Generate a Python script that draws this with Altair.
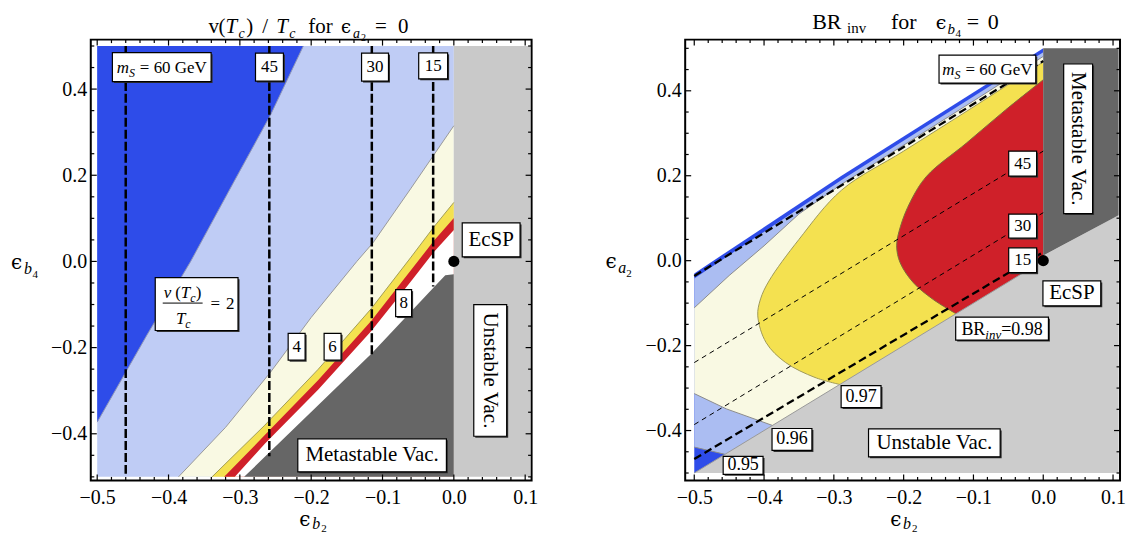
import altair as alt
import pandas as pd

FONT = "Liberation Serif"
EPS_FONT = "DejaVu Serif"
WL = 442
WR = 436
H = 442

X_MAJOR = [-0.5, -0.4, -0.3, -0.2, -0.1, 0.0, 0.1]
Y_MAJOR = [-0.4, -0.2, 0.0, 0.2, 0.4]
X_MINOR = [round(-0.5 + 0.02 * i, 2) for i in range(31) if i % 5 != 0]
Y_MINOR = [round(-0.5 + 0.05 * i, 2) for i in range(21) if i % 4 != 2]

DARK_BLUE = "#2e4ce9"
LIGHT_BLUE_L = "#bfccf5"
LIGHT_BLUE_R = "#abbdf2"
CREAM = "#f9f9e3"
YELLOW = "#f4e150"
RED = "#cf2029"
DARK_GRAY = "#666666"
LIGHT_GRAY = "#c9c9c9"

# ---------------- LEFT PANEL  (x = eps_b2, y = eps_b4) ----------------
L_XDOM = [-0.509, 0.109]
L_YDOM = [-0.5083, 0.5148]
L_c2_x = [-0.5, -0.43, -0.369, -0.31, -0.257, -0.211]
L_c2_y = [-0.373, -0.17, 0.0, 0.18, 0.34, 0.5]
L_c4_x = [-0.386, -0.32, -0.257, -0.2, -0.136, -0.113, -0.06, 0.0]
L_c4_y = [-0.5, -0.385, -0.257, -0.13, 0.0, 0.044, 0.17, 0.315]
L_c6_x = [-0.339, -0.265, -0.19, -0.116, -0.06, -0.028, 0.0]
L_c6_y = [-0.5, -0.38, -0.25, -0.11, 0.01, 0.08, 0.137]
L_c7_x = [-0.322, -0.265, -0.19, -0.116, -0.06, -0.028, 0.0]
L_c7_y = [-0.5, -0.403, -0.275, -0.138, -0.02, 0.048, 0.101]
L_c8_x = [-0.307, -0.265, -0.19, -0.116, -0.06, -0.028, 0.0]
L_c8_y = [-0.5, -0.423, -0.297, -0.162, -0.046, 0.022, 0.073]
L_meta_x = [-0.294, -0.116, -0.028, -0.012, 0.0]
L_meta_y = [-0.5, -0.215, -0.06, -0.032, -0.03]
L_ms_names = ["60", "45", "30", "15"]
L_ms_x = [-0.46, -0.2587, -0.115, -0.029]
L_ms_end = [-0.5, -0.452, -0.217, -0.058]

# ---------------- RIGHT PANEL (x = eps_b2, y = eps_a2) ----------------
R_XDOM = [-0.513, 0.110]
R_YDOM = [-0.5175, 0.5205]
R_band_x = [-0.5, -0.289, 0.0]
R_band_y = [-0.03, 0.2, 0.5]
R_c95_x = [-0.456, -0.5, -0.5, -0.289, 0.0]
R_c95_y = [-0.456, -0.439, -0.042, 0.19, 0.491]
R_c96_x = [-0.388, -0.454, -0.5, -0.5, -0.45, -0.4, -0.35, -0.289, -0.2, -0.1, 0.0]
R_c96_y = [-0.388, -0.349, -0.313, -0.111, -0.035, 0.035, 0.11, 0.18, 0.272, 0.376, 0.481]
R_c97_x = [-0.2915, -0.327, -0.369, -0.397, -0.409, -0.405, -0.393, -0.35, -0.289, -0.2, -0.1, 0.0]
R_c97_y = [-0.2915, -0.275, -0.24, -0.193, -0.13, -0.09, -0.048, 0.05, 0.166, 0.258, 0.362, 0.468]
R_c98_x = [-0.125, -0.158, -0.186, -0.205, -0.21, -0.2045, -0.19, -0.167, -0.11, -0.054, 0.0]
R_c98_y = [-0.125, -0.091, -0.052, -0.005, 0.035, 0.081, 0.14, 0.199, 0.277, 0.355, 0.426]
R_unst_x = [-0.5, 0.0, 0.0005, 0.108]
R_unst_y = [-0.5, 0.0, 0.012, 0.107]
R_meta_x = [0.0, 0.108]
R_meta_y = [0.012, 0.107]
R_ms_names = ["60", "45", "30", "15"]
R_ms_x0 = [-0.5, -0.5, -0.5, -0.5]
R_ms_y0 = [-0.036, -0.24, -0.386, -0.467]
R_ms_x1 = [0.0, 0.0, 0.0, 0.0]
R_ms_y1 = [0.47, 0.258, 0.113, 0.02]

REG_W = {" ": 250, "\u00a0": 250, "=": 564, ".": 250, "(": 333, ")": 333, "/": 278,
         "B": 667, "R": 667, "G": 722, "V": 722, "e": 444, "i": 278, "n": 500,
         "v": 500, "f": 333, "o": 500, "r": 333}
ITA_W = {"m": 722, "S": 500, "T": 556, "c": 444, "a": 500, "b": 500, "i": 278,
         "n": 500, "v": 444}


def tw(t, fs, it):
    tab = ITA_W if it else REG_W
    return sum(tab.get(ch, 500) for ch in t) * fs / 1000.0


def panel(xdom, ydom, w):
    return dict(xdom=xdom, ydom=ydom, w=w, ppx=w / (xdom[1] - xdom[0]), ppy=H / (ydom[1] - ydom[0]))


PL = panel(L_XDOM, L_YDOM, WL)
PR = panel(R_XDOM, R_YDOM, WR)


def encs(P):
    xs = alt.Scale(domain=P["xdom"], nice=False, zero=False)
    ys = alt.Scale(domain=P["ydom"], nice=False, zero=False)
    xa = alt.Axis(values=X_MAJOR, format=".1f", ticks=False, domain=False, grid=False,
                  labelFont=FONT, labelFontSize=20, labelColor="black", labelPadding=7,
                  labelFlush=False, title=None)
    ya = alt.Axis(values=Y_MAJOR, format=".1f", ticks=False, domain=False, grid=False,
                  labelFont=FONT, labelFontSize=20, labelColor="black", labelPadding=4,
                  labelFlush=False, title=None)
    return alt.X("x:Q", scale=xs, axis=xa), alt.Y("y:Q", scale=ys, axis=ya)


def varea(X, Y, xs, ys, y2s, color, interp="linear"):
    df = pd.DataFrame({"x": xs, "y": ys, "y2": y2s})
    return alt.Chart(df).mark_area(color=color, opacity=1, interpolate=interp).encode(
        x=X, y=Y, y2=alt.Y2("y2:Q"))


def harea(X, Y, xs, ys, x2s, color, interp="linear"):
    df = pd.DataFrame({"x": xs, "y": ys, "x2": x2s})
    return alt.Chart(df).mark_area(color=color, opacity=1, orient="horizontal",
                                   interpolate=interp).encode(x=X, x2=alt.X2("x2:Q"), y=Y)


def cline(X, Y, xs, ys, color, width=1.0, dash=None, interp="linear"):
    df = pd.DataFrame({"x": xs, "y": ys, "o": list(range(len(xs)))})
    kw = dict(color=color, strokeWidth=width, interpolate=interp)
    if dash is not None:
        kw["strokeDash"] = dash
    return alt.Chart(df).mark_line(**kw).encode(x=X, y=Y, order="o:Q")


def tick_layers(X, Y, w):
    out = []
    for vals, ln in ((X_MAJOR, 6), (X_MINOR, 3.5)):
        df = pd.DataFrame({"x": vals})
        out.append(alt.Chart(df).mark_rule(color="black", strokeWidth=1.2).encode(
            x=X, y=alt.value(H), y2=alt.value(H - ln)))
        out.append(alt.Chart(df).mark_rule(color="black", strokeWidth=1.2).encode(
            x=X, y=alt.value(0), y2=alt.value(ln)))
    for vals, ln in ((Y_MAJOR, 6), (Y_MINOR, 3.5)):
        df = pd.DataFrame({"y": vals})
        out.append(alt.Chart(df).mark_rule(color="black", strokeWidth=1.2).encode(
            y=Y, x=alt.value(0), x2=alt.value(ln)))
        out.append(alt.Chart(df).mark_rule(color="black", strokeWidth=1.2).encode(
            y=Y, x=alt.value(w), x2=alt.value(w - ln)))
    return out


def add_px(rows, P, rx, ry, t, fs, it=False, fn=FONT):
    x = P["xdom"][0] + rx / P["ppx"]
    y = P["ydom"][1] - ry / P["ppy"]
    rows.append(dict(x=x, y=y, t=t, fs=fs, it=it, ang=0, al="left", bl="alphabetic", fn=fn))


def add_off(rows, P, x, y, dx, dy, t, fs, it=False, fn=FONT):
    rows.append(dict(x=x + dx / P["ppx"], y=y - dy / P["ppy"], t=t, fs=fs, it=it, ang=0,
                     al="left", bl="alphabetic", fn=fn))


def label_c(rows, x, y, t, fs, it=False, ang=0):
    rows.append(dict(x=x, y=y, t=t, fs=fs, it=it, ang=ang, al="center", bl="middle", fn=FONT))


def label_rich(rows, P, x, y, pieces, base_dy):
    total = sum(tw(t, fs, it) + gap for t, fs, it, _, gap in pieces)
    cur = -total / 2
    for t, fs, it, dy, gap in pieces:
        cur += gap
        add_off(rows, P, x, y, cur, base_dy + dy, t, fs, it)
        cur += tw(t, fs, it)


def box_layers(X, Y, boxes):
    rows = []
    for x, y, w, h in boxes:
        a, b = w / 20.0, h / 20.0
        rows.append(dict(x=x, y=y, shp=f"M{-a},{-b}L{a},{-b}L{a},{b}L{-a},{b}Z"))
    df = pd.DataFrame(rows)
    sh = alt.Shape("shp:N", scale=None, legend=None)
    shadow = alt.Chart(df).mark_point(filled=True, color="#333333", opacity=1, xOffset=1.5,
                                      yOffset=1.5).encode(x=X, y=Y, shape=sh, size=alt.value(400))
    box = alt.Chart(df).mark_point(filled=True, fill="white", stroke="black", strokeWidth=1.2,
                                   opacity=1).encode(x=X, y=Y, shape=sh, size=alt.value(400))
    return [shadow, box]


def text_layers(X, Y, rows):
    df = pd.DataFrame(rows)
    out = []
    for (it, ang, al, bl, fn), g in df.groupby(["it", "ang", "al", "bl", "fn"]):
        gg = g[["x", "y", "t", "fs"]].reset_index(drop=True)
        out.append(alt.Chart(gg).mark_text(font=str(fn), fontStyle="italic" if bool(it) else "normal",
                                           align=str(al), baseline=str(bl), angle=float(ang),
                                           color="black").encode(
            x=X, y=Y, text="t:N", size=alt.Size("fs:Q", scale=None, legend=None)))
    return out


MS_PIECES = [("m", 17, True, 0, 0), ("S", 12, True, 4, 0), ("=\u00a060\u00a0GeV", 17, False, 0, 5)]

# ======================= LEFT =======================
XL, YL = encs(PL)
left_layers = [
    varea(XL, YL, [-0.5, 0.0], [0.5, 0.5], [-0.5, -0.5], LIGHT_BLUE_L),
    varea(XL, YL, L_c2_x, [0.5] * len(L_c2_x), L_c2_y, DARK_BLUE),
    varea(XL, YL, L_c4_x, L_c4_y, [-0.5] * len(L_c4_x), CREAM),
    varea(XL, YL, L_c6_x, L_c6_y, [-0.5] * len(L_c6_x), YELLOW),
    varea(XL, YL, L_c7_x, L_c7_y, [-0.5] * len(L_c7_x), RED),
    varea(XL, YL, L_c8_x, L_c8_y, [-0.5] * len(L_c8_x), "#ffffff"),
    varea(XL, YL, L_meta_x, L_meta_y, [-0.5] * len(L_meta_x), DARK_GRAY),
    varea(XL, YL, [0.0, 0.107], [0.5, 0.5], [-0.5, -0.5], LIGHT_GRAY),
    cline(XL, YL, L_c2_x, L_c2_y, "#8e96b8"),
    cline(XL, YL, L_c4_x, L_c4_y, "#9a9a9a"),
    cline(XL, YL, L_c6_x, L_c6_y, "#a39e55"),
]
ms_rows = []
for n, x, e in zip(L_ms_names, L_ms_x, L_ms_end):
    ms_rows.append(dict(x=x, y=0.5, o=0, g=n))
    ms_rows.append(dict(x=x, y=e, o=1, g=n))
left_layers.append(alt.Chart(pd.DataFrame(ms_rows)).mark_line(
    color="black", strokeWidth=2.5, strokeDash=[9, 3]).encode(x=XL, y=YL, detail="g:N", order="o:Q"))

L_boxes = [(-0.4095, 0.451, 99, 29), (-0.2585, 0.451, 28, 28), (-0.1105, 0.451, 27, 28),
           (-0.029, 0.454, 29, 26), (-0.3606, -0.099, 83, 53), (-0.2204, -0.198, 17, 27),
           (-0.170, -0.198, 17, 27), (-0.0704, -0.0967, 16, 27), (0.0523, 0.050, 58, 34),
           (0.051, -0.253, 33, 132), (-0.1146, -0.450, 149, 33)]
left_layers += box_layers(XL, YL, L_boxes)

rowsL = []
L_TITLE = [(118, -6.5, "v", 21, False), (128, -6.5, "(", 21, False), (135, -6.5, "T", 21, True),
           (148, -1.5, "c", 14, True), (156, -6.5, ")", 21, False), (172, -6.5, "/", 21, False),
           (186, -6.5, "T", 21, True), (199, -1.5, "c", 14, True), (218, -6.5, "for", 21, False),
           (251, -6.5, "\u03f5", 18, False, EPS_FONT), (263, -1.5, "a", 14, True),
           (271, 1.5, "2", 10, False), (285, -6.5, "=", 21, False), (308, -6.5, "0", 21, False)]
L_AXT = [(209, 488, "\u03f5", 20, False, EPS_FONT), (222, 491, "b", 16, True), (231, 494, "2", 11, False),
         (-80, 230, "\u03f5", 20, False, EPS_FONT), (-67, 235, "b", 16, True), (-58.5, 239, "4", 11, False)]
for item in L_TITLE + L_AXT:
    add_px(rowsL, PL, *item)
label_rich(rowsL, PL, -0.4095, 0.451, MS_PIECES, 6)
label_c(rowsL, -0.2585, 0.451, "45", 17)
label_c(rowsL, -0.1105, 0.451, "30", 17)
label_c(rowsL, -0.029, 0.454, "15", 17)
fx, fy = -0.3606, -0.099
for dx, dy, t, fs, it in [(-33, -6, "v", 17, True), (-21.5, -6, "(", 17, False),
                          (-16, -6, "T", 17, True), (-6.5, -2, "c", 12, True),
                          (-1, -6, ")", 17, False), (-20.7, 20, "T", 17, True),
                          (-11.5, 24, "c", 12, True), (14, 5, "=", 17, False),
                          (29.5, 5, "2", 17, False)]:
    add_off(rowsL, PL, fx, fy, dx, dy, t, fs, it)
left_layers.append(alt.Chart(pd.DataFrame({"x": [fx - 34 / PL["ppx"]], "x2": [fx + 6 / PL["ppx"]],
                                           "y": [fy + 1 / PL["ppy"]]})).mark_rule(
    color="black", strokeWidth=1).encode(x=XL, x2=alt.X2("x2:Q"), y=YL))
label_c(rowsL, -0.2204, -0.198, "4", 17)
label_c(rowsL, -0.170, -0.198, "6", 17)
label_c(rowsL, -0.0704, -0.0967, "8", 17)
label_c(rowsL, 0.0523, 0.050, "EcSP", 21)
label_c(rowsL, 0.051, -0.253, "Unstable Vac.", 21, ang=90)
label_c(rowsL, -0.1146, -0.450, "Metastable Vac.", 21)
left_layers += text_layers(XL, YL, rowsL)
left_layers.append(alt.Chart(pd.DataFrame({"x": [0.0], "y": [0.0]})).mark_point(
    filled=True, color="black", size=125, opacity=1).encode(x=XL, y=YL))
left_layers += tick_layers(XL, YL, WL)
left = alt.layer(*left_layers).properties(width=WL, height=H)

# ======================= RIGHT =======================
XR, YR = encs(PR)
CR = "catmull-rom"
right_layers = [
    varea(XR, YR, R_band_x, R_band_y, [-0.5] * len(R_band_x), DARK_BLUE),
    harea(XR, YR, R_c95_x, R_c95_y, [0.0] * len(R_c95_x), LIGHT_BLUE_R),
    harea(XR, YR, R_c96_x, R_c96_y, [0.0] * len(R_c96_x), CREAM),
    harea(XR, YR, R_c97_x, R_c97_y, [0.0] * len(R_c97_x), YELLOW, CR),
    harea(XR, YR, R_c98_x, R_c98_y, [0.0] * len(R_c98_x), RED, CR),
    varea(XR, YR, R_unst_x, R_unst_y, [-0.5] * len(R_unst_x), "#cccccc"),
    varea(XR, YR, R_meta_x, [0.5, 0.5], R_meta_y, DARK_GRAY),
    cline(XR, YR, R_c96_x[:3], R_c96_y[:3], "#8c8c8c"),
    cline(XR, YR, R_c96_x[3:], R_c96_y[3:], "#8c8c8c"),
    cline(XR, YR, R_c95_x[:2], R_c95_y[:2], "#8c8c8c"),
    cline(XR, YR, R_c97_x, R_c97_y, "#a09a58", interp=CR),
    cline(XR, YR, R_c98_x, R_c98_y, "#7d6b3a", interp=CR),
    cline(XR, YR, R_unst_x[:2], R_unst_y[:2], "#9a9a9a"),
]
for i, n in enumerate(R_ms_names):
    thick = n in ("60", "15")
    right_layers.append(cline(XR, YR, [R_ms_x0[i], R_ms_x1[i]], [R_ms_y0[i], R_ms_y1[i]], "black",
                              width=2.3 if thick else 1.0, dash=[8, 4] if thick else [5, 4]))

R_boxes = [(-0.08, 0.451, 97, 28), (-0.0295, 0.2285, 28, 25), (-0.0295, 0.0815, 28, 24),
           (-0.0295, 0.001, 28, 25), (0.050, 0.287, 29, 150), (0.041, -0.077, 58, 25),
           (-0.059, -0.16, 93, 23), (-0.261, -0.32, 40, 22), (-0.36, -0.421, 40, 22),
           (-0.43, -0.482, 40, 18), (-0.156, -0.429, 132, 28)]
right_layers += box_layers(XR, YR, R_boxes)

rowsR = []
R_TITLE = [(127.3, -11, "BR", 22, False), (162.3, -6.7, "inv", 15, False),
           (206.3, -11, "for", 22, False), (251.3, -11, "\u03f5", 19, False, EPS_FONT),
           (263, -6, "b", 15, True), (271, -2.7, "4", 11, False),
           (282.3, -11, "=", 22, False), (303.3, -11, "0", 22, False)]
R_AXT = [(205.5, 488, "\u03f5", 20, False, EPS_FONT), (218.5, 491, "b", 16, True), (227.5, 494, "2", 11, False),
         (-80, 229, "\u03f5", 20, False, EPS_FONT), (-67, 234, "a", 16, True), (-59, 238, "2", 11, False)]
for item in R_TITLE + R_AXT:
    add_px(rowsR, PR, *item)
label_rich(rowsR, PR, -0.08, 0.451, MS_PIECES, 6)
label_c(rowsR, -0.0295, 0.2285, "45", 17)
label_c(rowsR, -0.0295, 0.0815, "30", 17)
label_c(rowsR, -0.0295, 0.001, "15", 17)
label_c(rowsR, 0.050, 0.287, "Metastable Vac.", 21, ang=90)
label_c(rowsR, 0.041, -0.077, "EcSP", 21)
label_rich(rowsR, PR, -0.059, -0.16, [("BR", 18, False, 0, 0), ("inv", 13, True, 4, 0),
                                      ("=0.98", 18, False, 0, 0)], 6)
label_c(rowsR, -0.261, -0.32, "0.97", 18)
label_c(rowsR, -0.36, -0.421, "0.96", 18)
label_c(rowsR, -0.43, -0.482, "0.95", 18)
label_c(rowsR, -0.156, -0.429, "Unstable Vac.", 21)
right_layers += text_layers(XR, YR, rowsR)
right_layers.append(alt.Chart(pd.DataFrame({"x": [0.0], "y": [0.0]})).mark_point(
    filled=True, color="black", size=125, opacity=1).encode(x=XR, y=YR))
right_layers += tick_layers(XR, YR, WR)
right = alt.layer(*right_layers).properties(width=WR, height=H)

chart = alt.hconcat(left, right, spacing=154, bounds="flush").properties(
    padding={"left": 1, "top": 0, "right": 0, "bottom": 0}, background="white"
).configure_axis(labelFont=FONT, labelFontSize=20, labelColor="black"
).configure_view(stroke="black", strokeWidth=2)

chart.save("out.html", embed_options={"renderer": "svg", "actions": False})
